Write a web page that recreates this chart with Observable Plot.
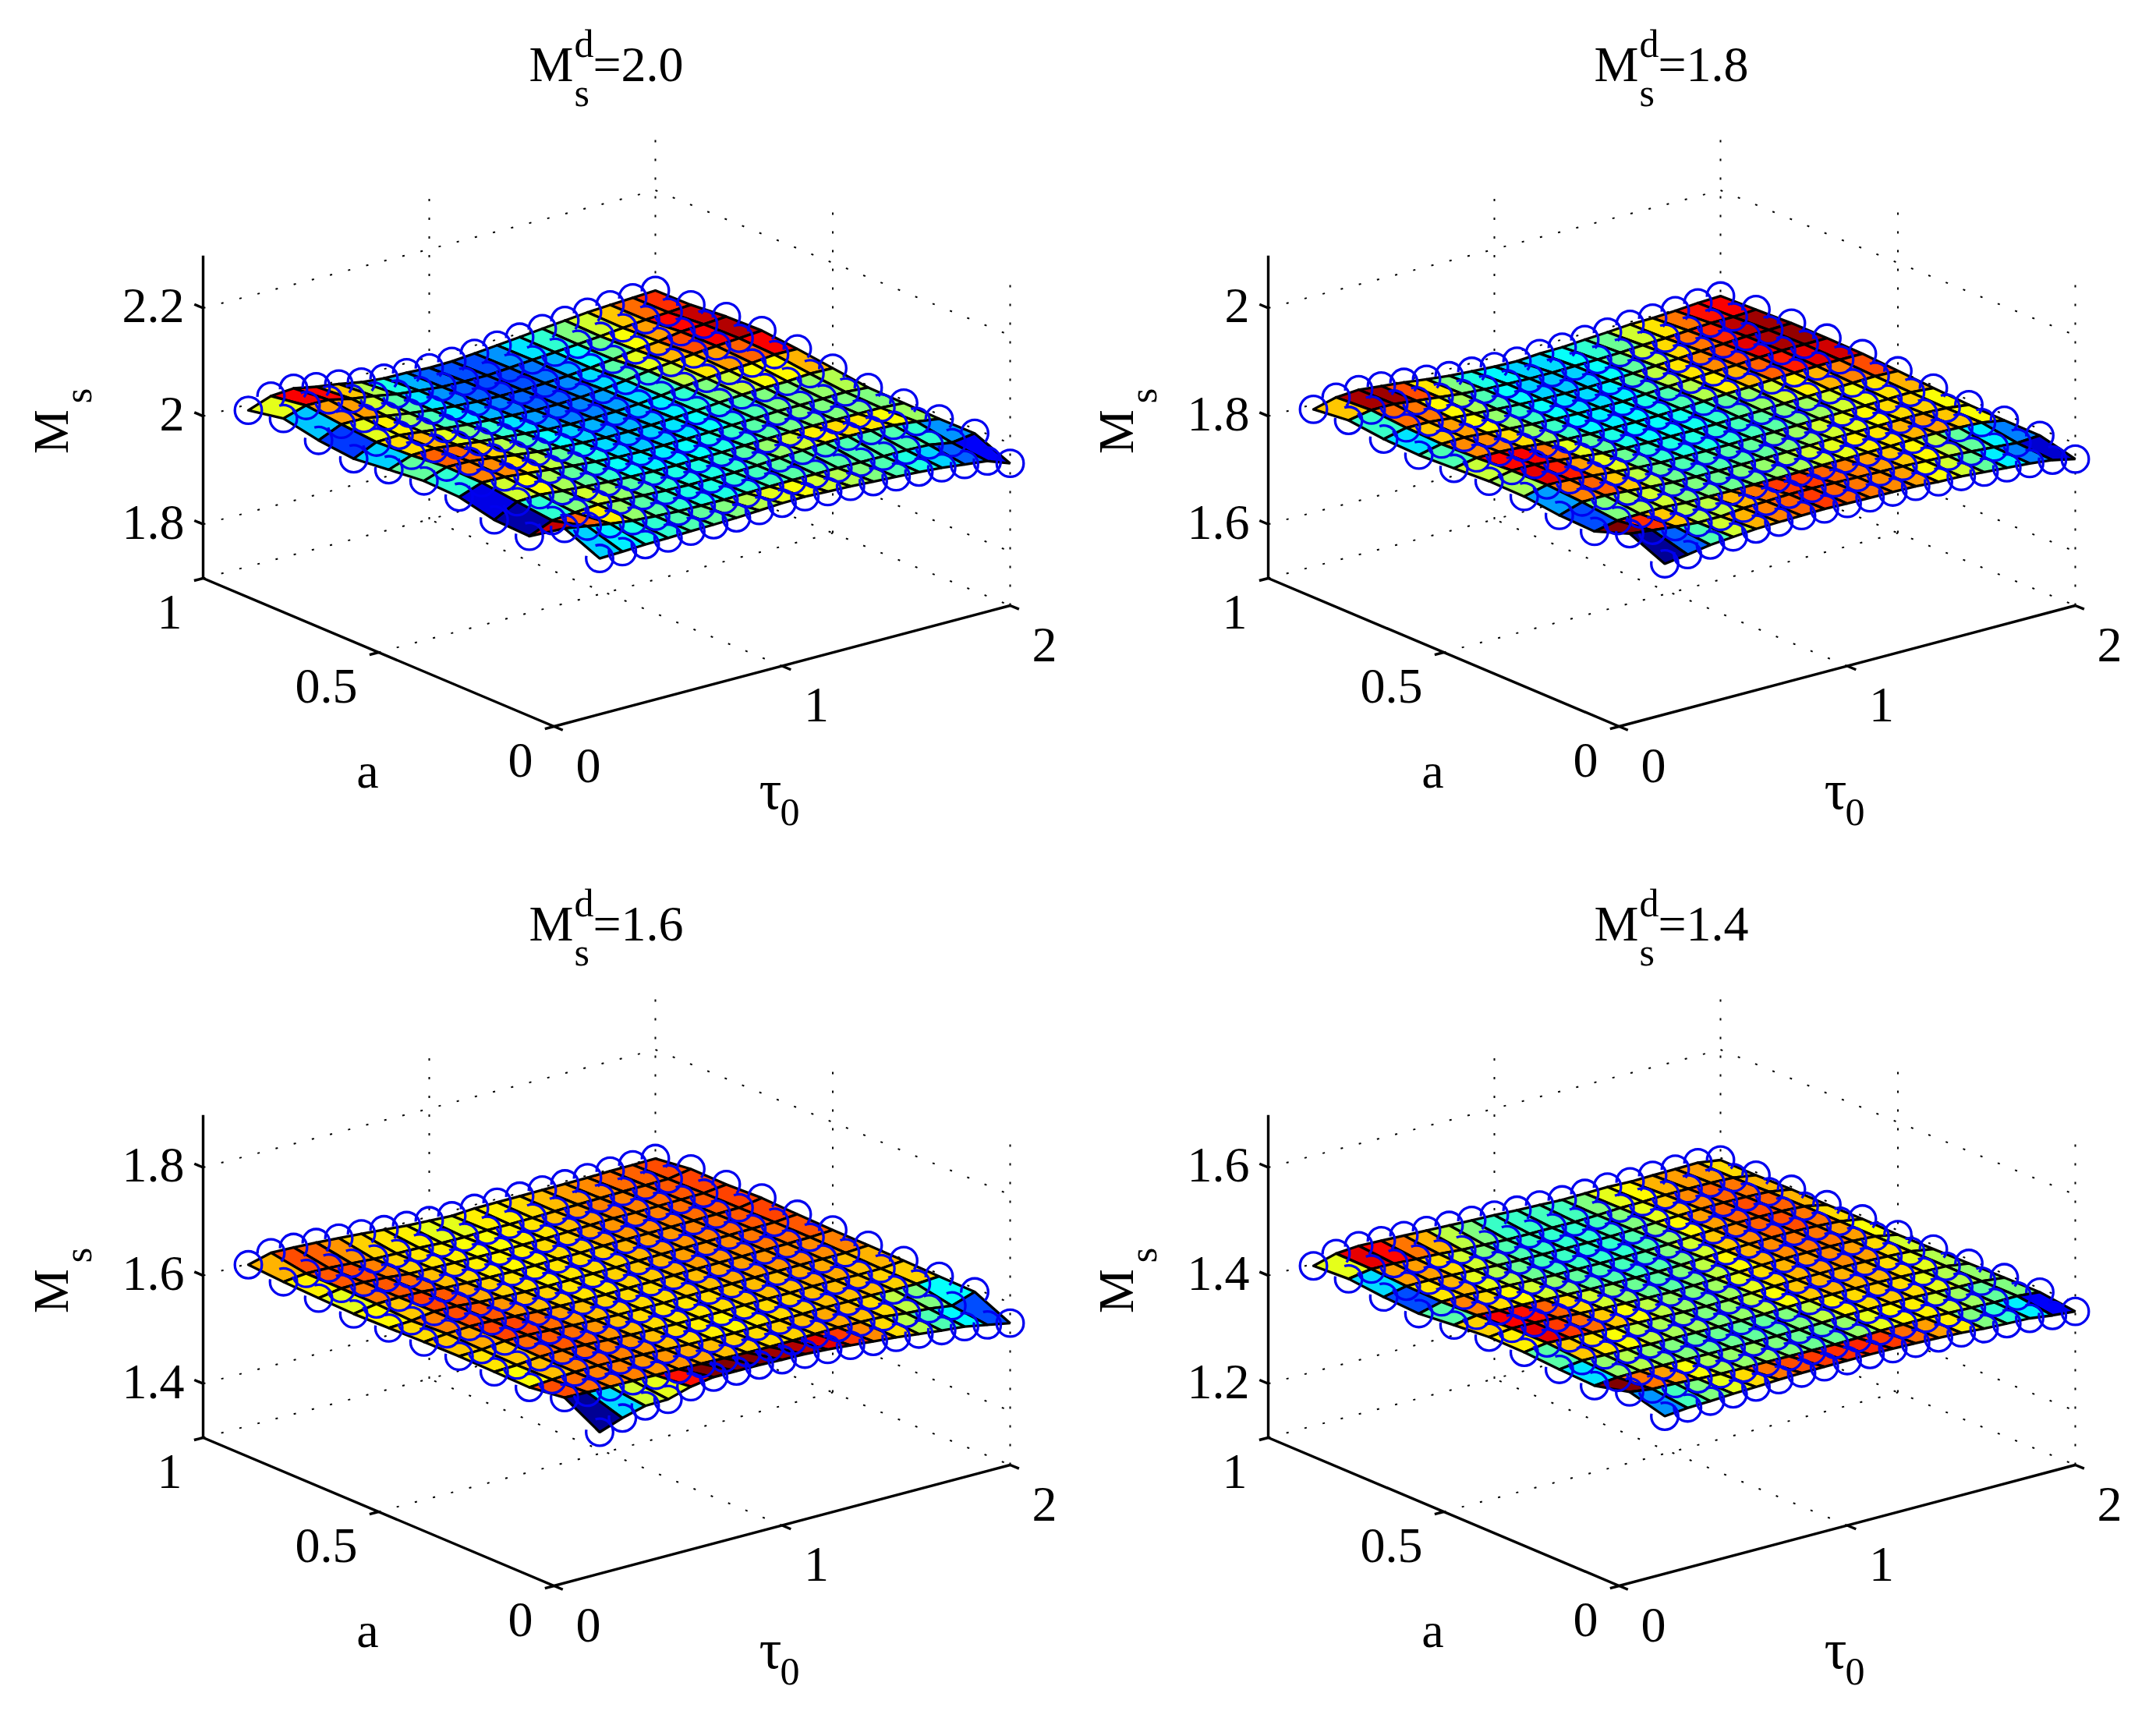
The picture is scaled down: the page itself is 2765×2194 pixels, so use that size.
<!DOCTYPE html>
<html><head><meta charset="utf-8">
<style>html,body{margin:0;padding:0;background:#fff}svg{display:block}</style>
<script src="https://cdn.jsdelivr.net/npm/d3@7"></script>
<script src="https://cdn.jsdelivr.net/npm/@observablehq/plot@0.6"></script>
</head><body><div id="c"></div>
<script>
// Grid of the surfaces
const aValues = [1,.9,.8,.7,.6,.5,.4,.3,.2,.1,0];
const tauValues = [.2,.3,.4,.5,.6,.7,.8,.9,1,1.1,1.2,1.3,1.4,1.5,1.6,1.7,1.8,1.9,2];
// Panel titles (M_s^d), z ticks, z-axis floors and Ms range covered by the colour map
const titles = ["2.0","1.8","1.6","1.4"];
const zTicks = [[1.8,2,2.2],[1.6,1.8,2],[1.4,1.6,1.8],[1.2,1.4,1.6]];
const zFloor = [1.7,1.5,1.3,1.1];
const msLow = [1.973,1.778,1.561,1.385];
const msHigh = [2.020,1.807,1.608,1.409];
const aTicks = [0,.5,1], tauTicks = [0,1,2];
// Ms, as a fraction of the colour range. Rows: a = 1 ... 0. Columns: tau = .2 ... 2.
const ms20 = [
[.34,.67,.74,.57,.45,.29,.21,.2,.16,.18,.26,.35,.44,.54,.63,.72,.78,.83,.885],
[.6,.88,.87,.68,.55,.4,.3,.22,.2,.2,.27,.35,.42,.5,.58,.68,.77,.83,.89],
[.32,.72,.72,.58,.46,.35,.27,.22,.2,.2,.24,.3,.38,.48,.62,.72,.87,.93,1],
[.18,.6,.64,.54,.44,.36,.3,.25,.22,.22,.26,.34,.46,.6,.7,.8,.88,.95,1.02],
[.33,.66,.7,.6,.5,.42,.35,.28,.25,.25,.28,.34,.44,.56,.65,.72,.78,.88,.87],
[.47,.78,.77,.67,.55,.45,.38,.33,.3,.3,.32,.36,.42,.5,.57,.62,.63,.7,.68],
[.42,.75,.74,.65,.56,.47,.4,.34,.32,.33,.35,.38,.42,.45,.5,.5,.52,.55,.49],
[.1,.58,.62,.54,.47,.42,.38,.36,.36,.38,.4,.43,.46,.49,.5,.5,.5,.5,.45],
[.04,.42,.5,.58,.52,.46,.42,.4,.4,.42,.46,.52,.58,.64,.66,.65,.62,.53,.4],
[.93,.78,.64,.52,.46,.42,.4,.4,.42,.44,.46,.46,.46,.45,.45,.45,.42,.27,.4],
[.33,.36,.4,.42,.45,.47,.5,.55,.6,.62,.58,.55,.5,.45,.4,.33,.22,.12,-.21]];
const ms18 = [
[.44,.83,.94,.8,.66,.48,.33,.24,.16,.13,.24,.27,.38,.48,.6,.63,.72,.84,.91],
[.68,.96,.97,.8,.65,.5,.4,.37,.33,.34,.38,.42,.48,.58,.65,.76,.86,.88,.97],
[.43,.77,.76,.63,.54,.45,.38,.33,.32,.33,.38,.47,.57,.66,.76,.84,.94,.97,1.03],
[.35,.68,.72,.62,.52,.43,.38,.35,.34,.36,.46,.56,.65,.74,.8,.9,.96,.98,1],
[.45,.74,.74,.66,.52,.43,.37,.36,.37,.4,.45,.55,.64,.7,.78,.85,.9,.92,.93],
[.57,.87,.88,.76,.6,.47,.4,.38,.38,.39,.42,.47,.52,.58,.64,.7,.75,.8,.76],
[.54,.9,.85,.72,.6,.48,.42,.4,.4,.42,.44,.46,.5,.53,.58,.61,.65,.7,.59],
[.28,.75,.78,.68,.56,.48,.45,.45,.46,.47,.5,.53,.58,.6,.63,.66,.67,.62,.45],
[.2,.5,.55,.58,.5,.5,.48,.5,.52,.54,.58,.6,.64,.65,.7,.72,.68,.62,.38],
[1,.83,.68,.55,.56,.7,.76,.82,.82,.78,.75,.72,.68,.63,.56,.47,.36,.25,.34],
[.02,.22,.45,.58,.7,.75,.78,.82,.78,.76,.74,.72,.62,.58,.47,.36,.25,.08,-.24]];
const ms16 = [
[.79,1.03,1.01,.97,.91,.85,.78,.71,.67,.63,.69,.7,.71,.72,.73,.74,.77,.78,.8],
[.7,.8,.78,.73,.67,.65,.64,.6,.6,.64,.64,.66,.69,.72,.74,.77,.78,.8,.96],
[.64,.79,.8,.75,.67,.65,.64,.62,.62,.64,.65,.69,.72,.75,.75,.77,.79,.81,.92],
[.6,.76,.79,.77,.69,.66,.64,.63,.64,.66,.67,.71,.73,.74,.75,.77,.79,.81,.96],
[.63,.68,.81,.79,.71,.67,.65,.64,.65,.66,.67,.7,.72,.73,.75,.77,.79,.81,.89],
[.66,.75,.8,.79,.73,.69,.67,.65,.65,.67,.68,.7,.72,.73,.74,.76,.77,.79,.84],
[.68,.71,.81,.81,.77,.72,.69,.67,.66,.66,.68,.69,.71,.72,.73,.74,.74,.75,.81],
[.65,.68,.77,.79,.77,.73,.69,.66,.65,.65,.66,.68,.69,.69,.71,.71,.69,.7,.78],
[.62,.69,.75,.77,.75,.73,.69,.66,.64,.63,.65,.66,.67,.69,.69,.69,.67,.67,.73],
[.8,.77,.75,.75,.73,.73,.71,.69,.67,.66,.67,.69,.71,.69,.66,.56,.5,.38,.69],
[.02,.34,.58,.6,.86,1,1,1,.97,.95,.9,.82,.74,.66,.55,.45,.37,.2,.03]];
const ms14 = [
[.46,.96,1.1,1.04,.98,.92,.86,.79,.74,.67,.62,.56,.6,.64,.585,.63,.66,.7,.45],
[.6,.9,.87,.76,.7,.56,.5,.43,.43,.44,.44,.5,.6,.63,.7,.72,.72,.66,.4],
[.34,.72,.72,.66,.58,.5,.45,.43,.42,.42,.44,.5,.6,.68,.74,.78,.76,.7,.43],
[.2,.65,.7,.6,.55,.48,.44,.43,.42,.42,.45,.52,.63,.72,.78,.8,.78,.7,.36],
[.46,.75,.66,.63,.58,.52,.47,.45,.44,.45,.5,.58,.68,.74,.78,.8,.76,.66,.38],
[.67,.88,.86,.78,.66,.58,.52,.48,.46,.5,.56,.63,.7,.74,.76,.76,.72,.62,.29],
[.64,.9,.82,.77,.68,.62,.56,.52,.5,.53,.6,.66,.7,.72,.74,.72,.66,.58,.3],
[.46,.68,.65,.62,.56,.54,.53,.5,.52,.56,.62,.68,.7,.7,.7,.66,.6,.55,.31],
[.35,.52,.55,.52,.5,.48,.48,.47,.47,.5,.56,.64,.66,.68,.66,.6,.55,.52,.33],
[1,.76,.72,.62,.54,.52,.52,.5,.48,.48,.52,.6,.63,.64,.58,.53,.47,.5,.33],
[.27,.44,.5,.6,.66,.76,.8,.82,.83,.84,.82,.77,.72,.64,.5,.42,.36,.12,-.04]];
const surfaces = [ms20,ms18,ms16,ms14];

// Jet colour map stops
const jetDomain = [0,.125,.375,.625,.875,1];
const jetRange = ["#000080","#0000ff","#00ffff","#ffff00","#ff0000","#800000"];

// Layout of the oblique view, in page pixels, for the first panel; others are shifted
const W = 2765, H = 2194;
const shiftX = [0,1366,0,1366], shiftY = [0,0,1102,1102];
const cL=[260,741], cF=[710,931], cR=[1295,776], cB=[840,590], zPx=693, zSpan=.597;

function project(p,a,tau,z){
  const s=1-a, t=tau/2, f=(i)=>cL[i]*(1-s)*(1-t)+cF[i]*s*(1-t)+cR[i]*s*t+cB[i]*(1-s)*t;
  return {x:f(0)+shiftX[p], y:f(1)+shiftY[p]-(z-zFloor[p])*zPx};
}
const cells=[], backDots=[], innerDots=[], frontDots=[], tipDots=[];
const dotted=[], solid=[], zLab=[], aLab=[], tauLab=[];
surfaces.forEach((rows,p)=>{
  const ms=(k,j)=>msLow[p]+rows[k][j]*(msHigh[p]-msLow[p]);
  const node=(k,j)=>project(p,aValues[k],tauValues[j],ms(k,j));
  // back to front so the nearer cells overlap
  for(let k=0;k<aValues.length-1;k++) for(let j=tauValues.length-2;j>=0;j--){
    const id=`${p}-${k}-${j}`, level=rows[k+1][j];
    [[k,j],[k+1,j],[k+1,j+1],[k,j+1],[k,j]].forEach(([m,n])=>cells.push({id,level,...node(m,n)}));
  }
  aValues.forEach((_,k)=>tauValues.forEach((_,j)=>{
    const n=node(k,j), last=tauValues.length-1, end=aValues.length-1;
    if((k===0&&j===0)||(k===end&&j===last)) tipDots.push(n);
    else if(k===0||j===last) backDots.push(n);
    else if(k===end||j===0) frontDots.push(n);
    else innerDots.push(n);
  }));
  const zb=zFloor[p], zt=zb+zSpan;
  const seg=(list,A,B)=>list.push({x1:A.x,y1:A.y,x2:B.x,y2:B.y});
  // dotted box grid on the floor and the two back walls
  seg(dotted,project(p,1,0,zb),project(p,1,2,zb));
  seg(dotted,project(p,1,2,zb),project(p,0,2,zb));
  seg(dotted,project(p,.5,0,zb),project(p,.5,2,zb));
  seg(dotted,project(p,0,1,zb),project(p,1,1,zb));
  zTicks[p].forEach(z=>{
    seg(dotted,project(p,1,0,z),project(p,1,2,z));
    seg(dotted,project(p,1,2,z),project(p,0,2,z));
    seg(solid,project(p,1,0,z),project(p,1.025,0,z));
    zLab.push({t:String(z),...project(p,1,0,z)});
  });
  seg(dotted,project(p,1,1,zb),project(p,1,1,zt));
  seg(dotted,project(p,1,2,zb),project(p,1,2,zt));
  seg(dotted,project(p,.5,2,zb),project(p,.5,2,zt));
  seg(dotted,project(p,0,2,zb),project(p,0,2,zt));
  // solid axes
  seg(solid,project(p,1,0,zb),project(p,1,0,zt));
  seg(solid,project(p,1,0,zb),project(p,0,0,zb));
  seg(solid,project(p,0,0,zb),project(p,0,2,zb));
  aTicks.forEach(a=>{seg(solid,project(p,a,0,zb),project(p,a,-.04,zb));
    aLab.push({t:String(a),...project(p,a,0,zb)});});
  tauTicks.forEach(v=>{seg(solid,project(p,0,v,zb),project(p,-.025,v,zb));
    tauLab.push({t:String(v),...project(p,0,v,zb)});});
});
const serif="Liberation Serif", big=64, small=50;
const anchor=(i)=>project(i,.5,0,zFloor[i]);
const anchorT=(i)=>project(i,0,1,zFloor[i]);
const anchorZ=(i)=>project(i,1,0,zFloor[i]+.3);
const idx=[0,1,2,3];
const C=2*Math.PI*17.3;
const dash=(deg)=>deg/360*C;
const circle={x:"x",y:"y",r:17.3,fill:"none",stroke:"#0000f0",strokeWidth:3.3};
const chart=Plot.plot({
  width:W,height:H,marginTop:0,marginRight:0,marginBottom:0,marginLeft:0,
  x:{domain:[0,W],range:[0,W],axis:null},y:{domain:[0,H],range:[0,H],axis:null},
  color:{type:"linear",domain:jetDomain,range:jetRange,interpolate:"rgb",clamp:true},
  style:{background:"#fff"},
  marks:[
    Plot.link(dotted,{x1:"x1",y1:"y1",x2:"x2",y2:"y2",stroke:"#000",strokeWidth:2,strokeDasharray:"3 21"}),
    Plot.link(solid,{x1:"x1",y1:"y1",x2:"x2",y2:"y2",stroke:"#000",strokeWidth:3.4}),
    Plot.line(cells,{x:"x",y:"y",z:"id",fill:"level",stroke:"#000",strokeWidth:3.3,strokeLinejoin:"miter",curve:"linear"}),
    Plot.dot(backDots,{...circle,strokeDasharray:`${dash(225)} ${dash(135)}`,strokeDashoffset:dash(185)}),
    Plot.dot(innerDots,{...circle,strokeDasharray:`${dash(280)} ${dash(80)}`,strokeDashoffset:dash(115)}),
    Plot.dot(frontDots,{...circle,strokeDasharray:`${dash(300)} ${dash(60)}`,strokeDashoffset:dash(110)}),
    Plot.dot(tipDots,circle),
    Plot.text(zLab,{x:"x",y:"y",text:"t",dx:-24,dy:-2,textAnchor:"end",fontFamily:serif,fontSize:big}),
    Plot.text(aLab,{x:"x",y:"y",text:"t",dx:-27,dy:44,textAnchor:"end",fontFamily:serif,fontSize:big}),
    Plot.text(tauLab,{x:"x",y:"y",text:"t",dx:44,dy:51,textAnchor:"middle",fontFamily:serif,fontSize:big}),
    // axis titles
    Plot.text(idx,{x:i=>anchor(i).x,y:i=>anchor(i).y,text:()=>"a",dx:-14,dy:153,fontFamily:serif,fontSize:big}),
    Plot.text(idx,{x:i=>anchorT(i).x,y:i=>anchorT(i).y,text:()=>"τ",dx:-15,dy:160,fontFamily:serif,fontSize:72}),
    Plot.text(idx,{x:i=>anchorT(i).x,y:i=>anchorT(i).y,text:()=>"0",dx:10,dy:188,fontFamily:serif,fontSize:small}),
    Plot.text(idx,{x:i=>anchorZ(i).x,y:i=>anchorZ(i).y,text:()=>"M",dx:-174,dy:20,rotate:-90,lineAnchor:"bottom",fontFamily:serif,fontSize:big}),
    Plot.text(idx,{x:i=>anchorZ(i).x,y:i=>anchorZ(i).y,text:()=>"s",dx:-144,dy:-26,rotate:-90,lineAnchor:"bottom",fontFamily:serif,fontSize:small}),
    // titles
    Plot.text(idx,{x:i=>678+shiftX[i],y:i=>103+shiftY[i],text:()=>"M",textAnchor:"start",lineAnchor:"bottom",fontFamily:serif,fontSize:big}),
    Plot.text(idx,{x:i=>736+shiftX[i],y:i=>72+shiftY[i],text:()=>"d",textAnchor:"start",lineAnchor:"bottom",fontFamily:serif,fontSize:small}),
    Plot.text(idx,{x:i=>736+shiftX[i],y:i=>135+shiftY[i],text:()=>"s",textAnchor:"start",lineAnchor:"bottom",fontFamily:serif,fontSize:small}),
    Plot.text(idx,{x:i=>760+shiftX[i],y:i=>103+shiftY[i],text:i=>"="+titles[i],textAnchor:"start",lineAnchor:"bottom",fontFamily:serif,fontSize:big})
  ]
});
document.getElementById("c").appendChild(chart);
</script></body></html>
